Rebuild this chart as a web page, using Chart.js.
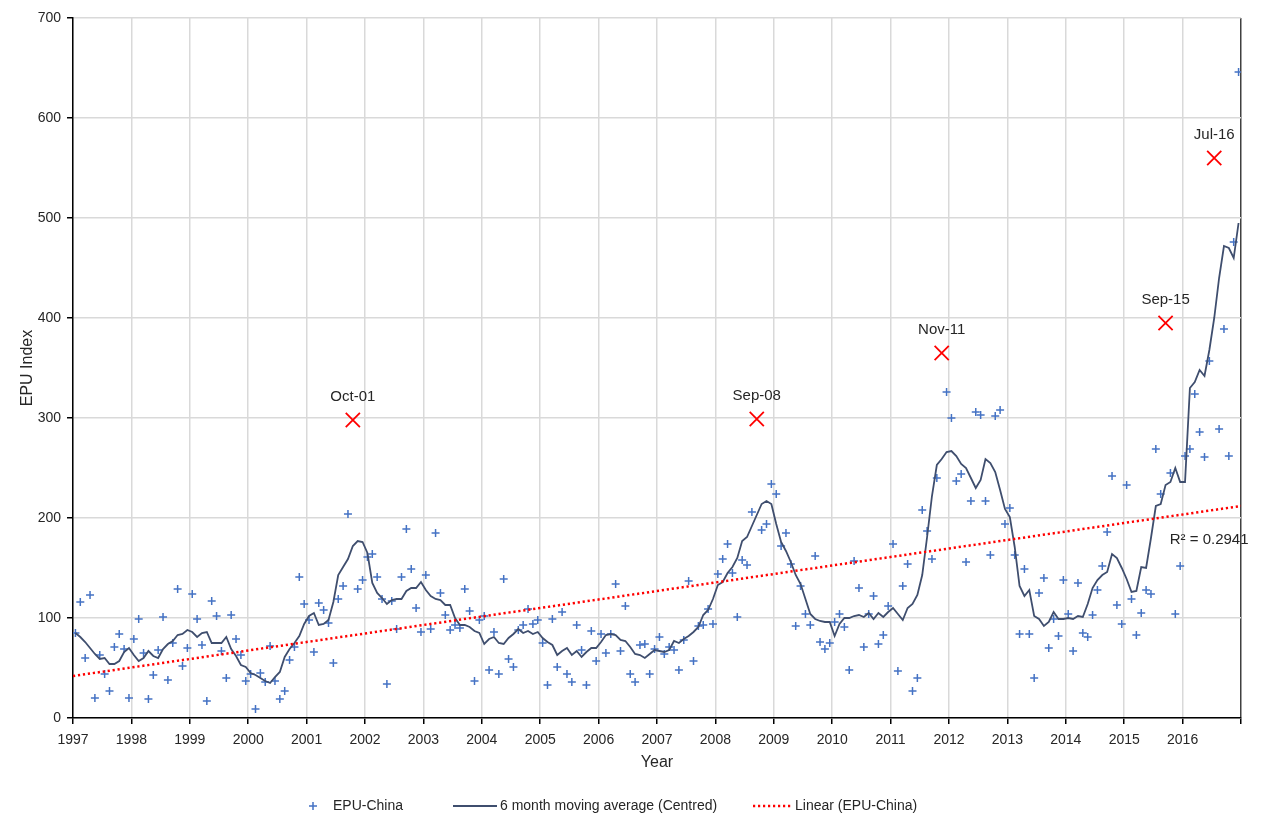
<!DOCTYPE html>
<html>
<head>
<meta charset="utf-8">
<script src="https://cdn.jsdelivr.net/npm/chart.js@4.4.0/dist/chart.umd.min.js"></script>
<style>
  html, body { margin: 0; padding: 0; background: #fff; }
</style>
</head>
<body>
<canvas id="chart" width="1261" height="816"></canvas>
<script>
// Monthly data, Jan 1997 .. Dec 2016 (null = month shown as a labelled peak)
const startYear = 1997;
const yearLabels = ['1997', '1998', '1999', '2000', '2001', '2002', '2003', '2004', '2005', '2006',
    '2007', '2008', '2009', '2010', '2011', '2012', '2013', '2014', '2015', '2016'];
const yTicks = [0, 100, 200, 300, 400, 500, 600, 700];

const epuValues = [
    85, 116, 60, 123, 20, 63, 44, 27, 71, 84, 69, 20,
    79, 99, 65, 19, 43, 68, 101, 38, 75, 129, 52, 70,
    124, 99, 73, 17, 117, 102, 67, 40, 103, 79, 63, 37,
    44, 9, 45, 36, 72, 37, 19, 27, 58, 71, 141, 114,
    98, 66, 115, 108, 95, 55, 119, 132, 204, null, 129, 138,
    161, 164, 141, 119, 34, 117, 89, 141, 189, 149, 110, 86,
    143, 89, 185, 125, 103, 88, 93, 90, 129, 107, 37, 98,
    102, 48, 86, 44, 139, 59, 51, 88, 93, 109, 94, 98,
    75, 33, 99, 51, 106, 44, 36, 93, 68, 33, 87, 57,
    84, 65, 84, 134, 67, 112, 44, 36, 73, 74, 44, 69,
    81, 64, 71, 68, 48, 78, 137, 57, 92, 93, 109, 94,
    144, 159, 174, 145, 101, 158, 153, 206, null, 188, 194, 234,
    224, 172, 185, 154, 92, 132, 104, 93, 162, 76, 69, 75,
    96, 104, 91, 48, 157, 130, 71, 104, 122, 74, 83, 112,
    174, 47, 132, 154, 27, 40, 208, 187, 159, 240, null, 326,
    300, 237, 244, 156, 217, 306, 303, 217, 163, 302, 308, 194,
    210, 163, 84, 149, 84, 40, 125, 140, 70, 99, 82, 138,
    104, 67, 135, 85, 81, 103, 128, 152, 186, 242, 113, 94,
    233, 119, 83, 105, 128, 124, 269, 224, null, 245, 104, 152,
    262, 269, 324, 286, 261, 357, null, 289, 389, 262, 476, 646
];

const maValues = [
    85, 81, 76, 70, 64, 59, 60, 54, 54, 57, 66, 70,
    63, 57, 60, 67, 62, 60, 69, 74, 77, 83, 84, 88,
    86, 81, 85, 86, 75, 75, 75, 81, 69, 62, 53, 51,
    45, 43, 40, 37, 35, 41, 46, 61, 69, 75, 82, 94,
    102, 105, 93, 94, 98, 116, 143, 151, 159, 172, 177, 176,
    165, 135, 125, 120, 114, 118, 119, 119, 127, 130, 130, 136,
    128, 122, 119, 118, 113, 113, 100, 93, 93, 91, 87, 85,
    74, 79, 81, 75, 74, 80, 84, 89, 85, 87, 84, 86,
    80, 76, 73, 63, 67, 70, 63, 67, 61, 66, 70, 70,
    76, 83, 84, 83, 78, 77, 71, 64, 63, 60, 64, 68,
    67, 66, 68, 77, 75, 79, 82, 86, 91, 103, 108, 119,
    133, 136, 145, 151, 160, 177, 181, 192, 203, 214, 217, 214,
    194, 176, 167, 156, 143, 134, 119, 104, 99, 97, 96, 96,
    82, 94, 100, 100, 102, 103, 101, 105, 99, 105, 101, 106,
    110, 104, 98, 110, 114, 123, 143, 181, 222, 253, 259, 266,
    267, 262, 254, 250, 240, 230, 238, 259, 255, 246, 228, 209,
    201, 171, 132, 122, 128, 102, 99, 92, 96, 106, 99, 99,
    100, 99, 102, 101, 114, 130, 138, 143, 146, 164, 160, 150,
    139, 126, 127, 151, 150, 180, 212, 214, 233, 236, 250, 236,
    236, 330, 336, 348, 342, 368, 400, 440, 472, 470, 460, 495
];

const peakLabels = ['Oct-01', 'Sep-08', 'Nov-11', 'Sep-15', 'Jul-16'];
const peakValues = [298, 299, 365, 395, 560];

const trendYears = [1997, 2017];
const trendValues = [42, 212];
const r2Text = 'R² = 0.2941';

const FONT = '"Liberation Sans", Arial, sans-serif';
const TEXT = '#262626';

const monthNames = ['Jan', 'Feb', 'Mar', 'Apr', 'May', 'Jun', 'Jul', 'Aug', 'Sep', 'Oct', 'Nov', 'Dec'];
const monthX = i => startYear + (i + 0.5) / 12;
const peakX = peakLabels.map(l => 2000 + parseInt(l.slice(4)) + (monthNames.indexOf(l.slice(0, 3)) + 0.5) / 12);

const epuPoints = [];
epuValues.forEach((v, i) => { if (v !== null) epuPoints.push({ x: monthX(i), y: v }); });
const maPoints = maValues.map((v, i) => ({ x: monthX(i), y: v }));
const peakPoints = peakValues.map((v, i) => ({ x: peakX[i], y: v }));
const trendPoints = trendValues.map((v, i) => ({ x: trendYears[i], y: v }));

// Peak labels and R² text
const labelPlugin = {
    id: 'labelPlugin',
    afterDatasetsDraw(chart) {
        const { ctx, scales: { x, y } } = chart;
        ctx.save();
        ctx.font = '15px ' + FONT;
        ctx.fillStyle = TEXT;
        ctx.textAlign = 'center';
        ctx.textBaseline = 'middle';
        peakLabels.forEach((lab, i) => {
            ctx.fillText(lab, x.getPixelForValue(peakX[i]), y.getPixelForValue(peakValues[i]) - 23);
        });
        ctx.textAlign = 'left';
        ctx.fillText(r2Text, x.getPixelForValue(2015.78), y.getPixelForValue(178));
        ctx.restore();
    }
};

// Legend at the bottom
const legendPlugin = {
    id: 'legendPlugin',
    afterDraw(chart) {
        const ctx = chart.ctx;
        const cy = 806;
        ctx.save();
        ctx.font = '14px ' + FONT;
        ctx.fillStyle = TEXT;
        ctx.textBaseline = 'middle';
        ctx.textAlign = 'left';

        // EPU marker
        ctx.strokeStyle = '#4472C4';
        ctx.lineWidth = 1.5;
        ctx.beginPath();
        ctx.moveTo(309, cy); ctx.lineTo(317, cy);
        ctx.moveTo(313, cy - 4); ctx.lineTo(313, cy + 4);
        ctx.stroke();
        ctx.fillText('EPU-China', 333, cy);

        // moving average
        ctx.strokeStyle = '#3F4E6E';
        ctx.lineWidth = 1.8;
        ctx.beginPath();
        ctx.moveTo(453, cy); ctx.lineTo(497, cy);
        ctx.stroke();
        ctx.fillText('6 month moving average (Centred)', 500, cy);

        // trend
        ctx.strokeStyle = '#FF0000';
        ctx.lineWidth = 2.5;
        ctx.setLineDash([2.2, 2.8]);
        ctx.beginPath();
        ctx.moveTo(753, cy); ctx.lineTo(791, cy);
        ctx.stroke();
        ctx.setLineDash([]);
        ctx.fillText('Linear (EPU-China)', 795, cy);
        ctx.restore();
    }
};

new Chart(document.getElementById('chart'), {
    type: 'scatter',
    data: {
        datasets: [
            {
                label: 'Linear (EPU-China)',
                type: 'line',
                data: trendPoints,
                borderColor: '#FF0000',
                borderWidth: 2.5,
                borderDash: [2.2, 2.8],
                pointRadius: 0,
                fill: false,
                order: 0
            },
            {
                label: 'Peaks',
                data: peakPoints,
                pointStyle: 'crossRot',
                pointRadius: 10,
                borderColor: '#FF0000',
                borderWidth: 1.8,
                order: 1
            },
            {
                label: '6 month moving average (Centred)',
                type: 'line',
                data: maPoints,
                borderColor: '#3F4E6E',
                borderWidth: 1.8,
                pointRadius: 0,
                tension: 0,
                fill: false,
                order: 2
            },
            {
                label: 'EPU-China',
                data: epuPoints,
                pointStyle: 'cross',
                pointRadius: 4,
                borderColor: '#4472C4',
                borderWidth: 1.5,
                order: 3
            }
        ]
    },
    options: {
        responsive: false,
        animation: false,
        layout: { padding: { left: 0, right: 20, top: 18, bottom: 38 } },
        plugins: {
            legend: { display: false },
            tooltip: { enabled: false }
        },
        scales: {
            x: {
                type: 'linear',
                min: 1997,
                max: 2017,
                afterBuildTicks: scale => {
                    scale.ticks = yearLabels.map(l => ({ value: Number(l) })).concat([{ value: 2017 }]);
                },
                afterFit: scale => { scale.height = 60; },
                ticks: {
                    autoSkip: false,
                    maxRotation: 0,
                    padding: 8,
                    color: TEXT,
                    font: { size: 14, family: FONT },
                    callback: v => yearLabels.includes(String(v)) ? String(v) : ''
                },
                grid: {
                    color: c => (c.tick && c.tick.value === 2017) ? '#404040' : '#D9D9D9',
                    lineWidth: 1.5,
                    tickColor: '#000',
                    tickLength: 6
                },
                border: { color: '#000', width: 1.5 },
                title: {
                    display: true,
                    text: 'Year',
                    color: TEXT,
                    font: { size: 16, family: FONT },
                    padding: { top: 0, bottom: 6 }
                }
            },
            y: {
                min: 0,
                max: 700,
                afterBuildTicks: scale => {
                    scale.ticks = yTicks.map(v => ({ value: v }));
                },
                afterFit: scale => { scale.width = 73; },
                ticks: {
                    padding: 6,
                    color: TEXT,
                    font: { size: 14, family: FONT }
                },
                grid: {
                    color: '#D9D9D9',
                    lineWidth: 1.5,
                    tickColor: '#000',
                    tickLength: 6
                },
                border: { color: '#000', width: 1.5 },
                title: {
                    display: true,
                    text: 'EPU Index',
                    color: TEXT,
                    font: { size: 16, family: FONT },
                    padding: { top: 18, bottom: 0 }
                }
            }
        }
    },
    plugins: [labelPlugin, legendPlugin]
});
</script>
</body>
</html>
